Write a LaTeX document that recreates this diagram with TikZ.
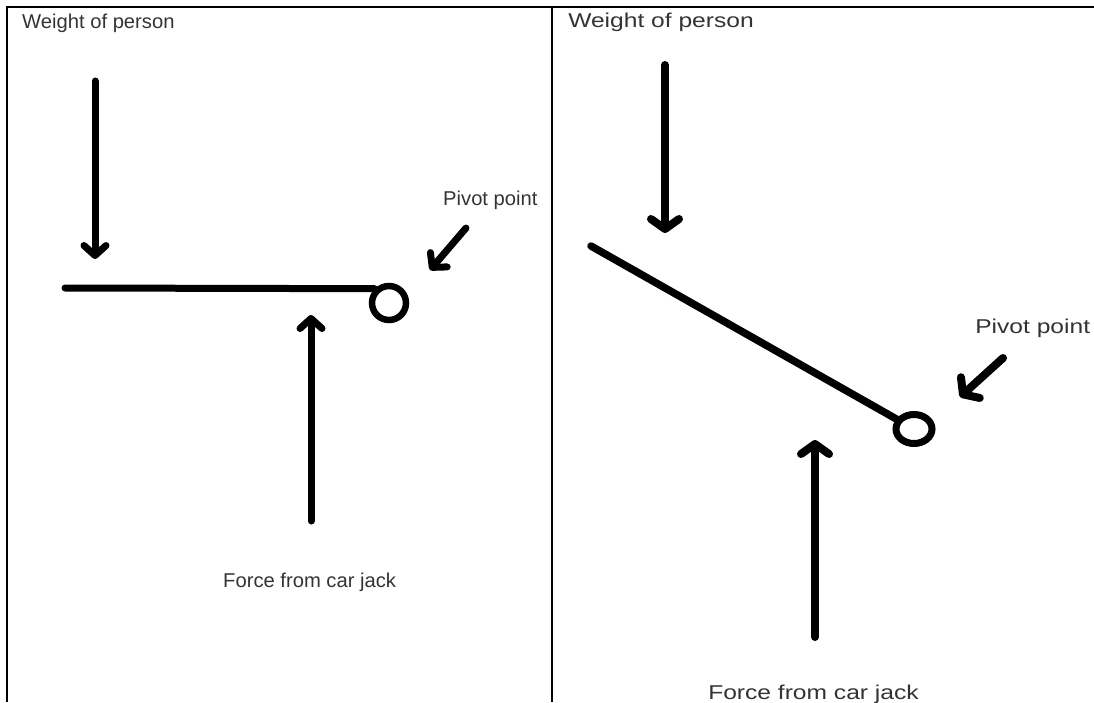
\documentclass[tikz,border=0pt]{standalone}
\usepackage{fontspec}
\setmainfont{Liberation Sans}
\usetikzlibrary{arrows.meta, shapes.geometric}
\definecolor{txtgray}{HTML}{333333}

\begin{document}
\begin{tikzpicture}[x=1pt, y=-1pt,
    panelline/.style={line width=2.4pt, black},
    txt/.style={anchor=base west, inner sep=0pt, text=txtgray,
                font=\fontsize{20}{23}\selectfont},
    lever/.style={line width=#1, line cap=round, black},
    pivot/.style={draw, line width=6.5pt, inner sep=0pt},
    force/.style={-{Straight Barb[length=10pt, width=22pt, round]},
                  line width=7pt, line cap=round},
    wideforce/.style={-{Straight Barb[length=10pt, width=28pt, round]},
                      line width=8pt, line cap=round}
  ]
    \useasboundingbox (0,0) rectangle (1094,702);
    \draw[panelline] (7,702) -- (7,7) -- (1094,7);
    \draw[panelline] (552,7) -- (552,702);

    \node[txt, xscale=1.01] (weightL) at (22,28) {Weight of person};
    \node[txt, xscale=1.01] (pivottxtL) at (443,205) {Pivot point};
    \node[txt, xscale=1.01] (jacktxtL) at (223,587) {Force from car jack};
    \node[pivot, circle, minimum size=34pt] (pivotL) at (389,303) {};
    \coordinate (leverL) at (65,288);
    \coordinate (weighttopL) at (95,81);
    \coordinate (weighttipL) at (95,259);
    \coordinate (jackbotL) at (311,521);
    \coordinate (jacktipL) at (311,315);
    \coordinate (pivtailL) at (466,228);
    \coordinate (pivtipL) at (430,270);

    \draw[lever=7pt] (leverL) -- (pivotL.north west);
    \draw[force] (weighttopL) -- (weighttipL);
    \draw[force] (jackbotL) -- (jacktipL);
    \draw[force] (pivtailL) -- (pivtipL);

    \node[txt, xscale=1.23] (weightR) at (568,27) {Weight of person};
    \node[txt, xscale=1.23] (pivottxtR) at (975,333) {Pivot point};
    \node[txt, xscale=1.23] (jacktxtR) at (708,699) {Force from car jack};
    \node[pivot, ellipse, line width=7pt, minimum width=36pt, minimum height=29pt] (pivotR) at (914,429) {};
    \coordinate (leverR) at (591,246);
    \coordinate (weighttopR) at (665,65);
    \coordinate (weighttipR) at (665,233);
    \coordinate (jackbotR) at (815,637);
    \coordinate (jacktipR) at (815,440);
    \coordinate (pivtailR) at (1003,358);
    \coordinate (pivtipR) at (960,397);

    \draw[lever=7.5pt] (leverR) -- (pivotR);
    \draw[wideforce] (weighttopR) -- (weighttipR);
    \draw[wideforce] (jackbotR) -- (jacktipR);
    \draw[wideforce] (pivtailR) -- (pivtipR);
  \end{tikzpicture}
\end{document}
